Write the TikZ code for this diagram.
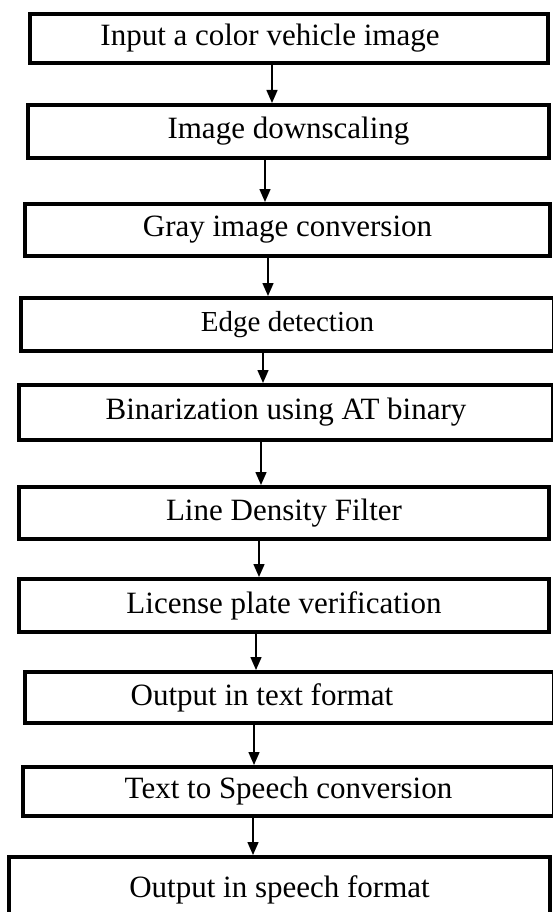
\documentclass[tikz,border=0pt]{standalone}
\usepackage{fontspec}
\setmainfont{Liberation Serif}
\usetikzlibrary{positioning}
\usetikzlibrary{arrows.meta}

\tikzset{
  stepbox/.style={draw, line width=4pt, inner sep=0pt, font=\fontsize{31}{36}\selectfont},
  flow/.style={-{Triangle[width=11pt,length=13pt]}, line width=1.5pt},
}

\begin{document}
\begin{tikzpicture}[x=1pt, y=-1pt]
            \useasboundingbox (0,0) rectangle (553,912);

            % Steps
            \node[stepbox, minimum width=518pt, minimum height=49pt] (input) at (289,38.5) {\hspace*{-38pt}Input a color vehicle image};
            \node[stepbox, minimum width=521pt, minimum height=53pt] (scale) at (288.5,131.5) {Image downscaling};
            \node[stepbox, minimum width=525pt, minimum height=52pt] (gray) at (287.5,230) {Gray image conversion};
            \node[stepbox, minimum width=533pt, minimum height=53pt, font=\fontsize{29}{34}\selectfont] (edge) at (287.5,324.5) {Edge detection};
            \node[stepbox, minimum width=534pt, minimum height=55pt] (binar) at (286,412.5) {Binarization using AT binary};
            \node[stepbox, minimum width=530pt, minimum height=52pt] (density) at (284,513) {Line Density Filter};
            \node[stepbox, minimum width=530pt, minimum height=53pt] (verify) at (284,605.5) {License plate verification};
            \node[stepbox, minimum width=529pt, minimum height=51pt] (textout) at (289.5,697.5) {\hspace*{-55pt}Output in text format};
            \node[stepbox, minimum width=531pt, minimum height=49pt] (tts) at (288.5,791.5) {Text to Speech conversion};
            \node[stepbox, minimum width=541pt, minimum height=66pt] (speech) at (279.5,890) {Output in speech format};

            % Arrows between steps
            \draw[flow] ([xshift=-17pt]input.south) -- ([xshift=-17pt]input.south |- scale.north);
            \draw[flow] ([xshift=-23.5pt]scale.south) -- ([xshift=-23.5pt]scale.south |- gray.north);
            \draw[flow] ([xshift=-19.5pt]gray.south) -- ([xshift=-19.5pt]gray.south |- edge.north);
            \draw[flow] ([xshift=-24.5pt]edge.south) -- ([xshift=-24.5pt]edge.south |- binar.north);
            \draw[flow] ([xshift=-25pt]binar.south) -- ([xshift=-25pt]binar.south |- density.north);
            \draw[flow] ([xshift=-25pt]density.south) -- ([xshift=-25pt]density.south |- verify.north);
            \draw[flow] ([xshift=-28pt]verify.south) -- ([xshift=-28pt]verify.south |- textout.north);
            \draw[flow] ([xshift=-35.5pt]textout.south) -- ([xshift=-35.5pt]textout.south |- tts.north);
            \draw[flow] ([xshift=-35.5pt]tts.south) -- ([xshift=-35.5pt]tts.south |- speech.north);
        \end{tikzpicture}
\end{document}
